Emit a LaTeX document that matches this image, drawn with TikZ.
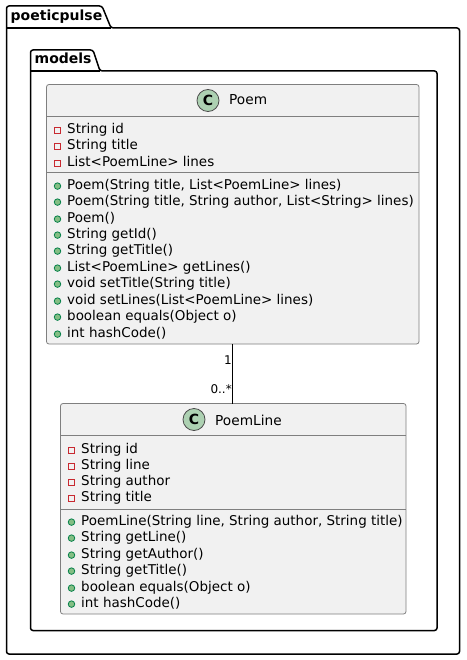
\documentclass[tikz,border=0pt]{standalone}
\usepackage{fontspec}
\setmainfont{DejaVu Sans}
\newcommand{\umlfont}{\fontsize{13.47}{16}\selectfont}
\definecolor{spotgreen}{HTML}{ADD1B2}
\definecolor{privred}{HTML}{C82930}
\definecolor{pubedge}{HTML}{038048}
\definecolor{pubfill}{HTML}{84BE84}
\definecolor{boxfill}{HTML}{F1F1F1}
\definecolor{boxedge}{HTML}{7F7F7F}
\tikzset{
  x=1pt,y=-1pt,
  pkg/.style={draw=black,line width=1.5pt,fill=white,rounded corners=2.5pt,line join=round},
  tabtitle/.style={font=\fontsize{14}{16}\selectfont\bfseries,anchor=base west,inner sep=0pt},
  classbox/.style={draw=boxedge,line width=0.8pt,fill=boxfill,rounded corners=2.5pt,anchor=north west,inner sep=0pt,outer sep=0pt},
  sepline/.style={draw=boxedge,line width=0.8pt},
  member/.style={font=\umlfont,anchor=base west,inner sep=0pt,text=black},
  classtitle/.style={font=\fontsize{13.7}{16}\selectfont,anchor=base west,inner sep=0pt},
  cardlabel/.style={font=\fontsize{12}{14}\selectfont,anchor=base east,inner sep=0pt},
  spot/.style={circle,draw=black!70,line width=0.8pt,fill=spotgreen,minimum size=22pt,inner sep=0pt,font=\fontsize{14}{16}\selectfont\bfseries},
  privmark/.style={draw=privred,line width=0.8pt,fill=none,minimum size=6pt,inner sep=0pt},
  pubmark/.style={circle,draw=pubedge,line width=0.8pt,fill=pubfill,minimum size=6.5pt,inner sep=0pt},
  assoc/.style={draw=black,line width=0.8pt}
}
\newcommand{\priv}[3]{\node[privmark] (#1m) at (57.5,#2-2.9) {}; \node[member] (#1) at (67,#2+0.6) {#3};}
\newcommand{\pub}[3]{\node[pubmark] (#1m) at (57.5,#2-2.9) {}; \node[member] (#1) at (67,#2+0.6) {#3};}
\newcommand{\privb}[3]{\node[privmark] (#1m) at (71.5,#2-2.9) {}; \node[member] (#1) at (81,#2+0.6) {#3};}
\newcommand{\pubb}[3]{\node[pubmark] (#1m) at (71.5,#2-2.9) {}; \node[member] (#1) at (81,#2+0.6) {#3};}
\begin{document}
\begin{tikzpicture}
\useasboundingbox (0,0) rectangle (466,660);
% packages
\draw[pkg] (6.5,28) -- (6.5,6) -- (102,6) -- (111,28) -- (459.5,28) -- (459.5,654) -- (6.5,654) -- cycle;
\draw[line width=1.5pt] (6.5,28) -- (111,28);
\node[tabtitle] (pkgouter) at (10.5,21) {poeticpulse};
\draw[pkg] (30.5,71) -- (30.5,50) -- (93,50) -- (100,71) -- (437,71) -- (437,630.5) -- (30.5,630.5) -- cycle;
\draw[line width=1.5pt] (30.5,71) -- (100,71);
\node[tabtitle] (pkginner) at (34.5,64) {models};
% Poem
\node[classbox,minimum width=372.5pt,minimum height=259.5pt] (poem) at (46.5,84.5) {};
\draw[sepline] (46.5,116.5) -- (419,116.5);
\draw[sepline] (46.5,172.7) -- (419,172.7);
\node[spot] (poemspot) at (208,100.5) {C};
\node[classtitle] (poemtitle) at (229,105) {Poem};
\priv{pa}{133}{String id}
\priv{pb}{149}{String title}
\priv{pc}{166}{List<PoemLine> lines}
\pub{pd}{189}{Poem(String title, List<PoemLine> lines)}
\pub{pe}{205}{Poem(String title, String author, List<String> lines)}
\pub{pf}{222}{Poem()}
\pub{pg}{238}{String getId()}
\pub{ph}{254}{String getTitle()}
\pub{pi}{271}{List<PoemLine> getLines()}
\pub{pj}{287}{void setTitle(String title)}
\pub{pk}{304}{void setLines(List<PoemLine> lines)}
\pub{pl}{320}{boolean equals(Object o)}
\pub{pm}{337}{int hashCode()}
% PoemLine
\node[classbox,minimum width=345.5pt,minimum height=210.5pt] (line) at (60.5,403.5) {};
\draw[sepline] (60.5,435.5) -- (406,435.5);
\draw[sepline] (60.5,509) -- (406,509);
\node[spot] (linespot) at (194,419.5) {C};
\node[classtitle] (linetitle) at (215,425) {PoemLine};
\privb{la}{453}{String id}
\privb{lb}{469}{String line}
\privb{lc}{485}{String author}
\privb{ld}{501}{String title}
\pubb{le}{525}{PoemLine(String line, String author, String title)}
\pubb{lf}{541}{String getLine()}
\pubb{lg}{558}{String getAuthor()}
\pubb{lh}{574}{String getTitle()}
\pubb{li}{591}{boolean equals(Object o)}
\pubb{lj}{607}{int hashCode()}
% association
\draw[assoc] (poem.south) -- (poem.south |- line.north);
\node[cardlabel] (cardone) at (232,364) {1};
\node[cardlabel] (cardmany) at (232,393) {0..*};
\end{tikzpicture}
\end{document}
